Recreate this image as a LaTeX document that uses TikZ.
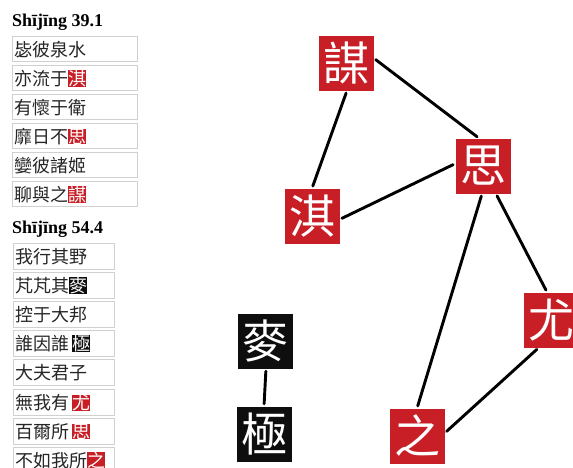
\documentclass[tikz,border=0pt]{standalone}
\usepackage{fontspec}
\usepackage{xcolor}
\usepackage{tikz}
\setmainfont{Liberation Serif}
\newfontfamily\cjk{Noto Sans CJK TC}
\definecolor{mored}{RGB}{200,30,38}
\definecolor{moblack}{RGB}{14,14,14}
\definecolor{frame}{RGB}{208,208,208}
\newcommand{\hlred}[1]{{\setlength\fboxsep{0pt}\colorbox{mored}{\color{white}#1}}}
\newcommand{\hlblack}[1]{{\setlength\fboxsep{0pt}\colorbox{moblack}{\color{white}#1}}}

\begin{document}
\begin{tikzpicture}[x=1pt, y=-1pt,
    title/.style={anchor=base west, inner sep=0pt, font=\fontsize{18pt}{20pt}\selectfont\bfseries},
    verse/.style={draw=frame, line width=1.4pt, anchor=north west, inner xsep=1.5pt, inner ysep=0pt,
      minimum height=25pt, align=left, text=black!85, font=\fontsize{18pt}{20pt}\selectfont\cjk},
    bigred/.style={fill=mored, text=white, minimum size=55pt, inner sep=0pt,
      font=\fontsize{46pt}{46pt}\selectfont\cjk},
    bigblack/.style={bigred, fill=moblack},
    link/.style={line width=2.9pt, line cap=round, shorten <=2.5pt, shorten >=2.5pt}]
    \useasboundingbox[fill=white] (0,0) rectangle (573,467);

    % Shijing 39.1
    \node[title] (t1) at (12,26) {Shījīng 39.1};
    \node[verse, text width=122pt] (a1) at (12,36) {毖彼泉水};
    \node[verse, text width=122pt] (a2) at (12,65) {亦流于\hlred{淇}};
    \node[verse, text width=122pt] (a3) at (12,94) {有懷于衛};
    \node[verse, text width=122pt] (a4) at (12,123) {靡日不\hlred{思}};
    \node[verse, text width=122pt] (a5) at (12,152) {孌彼諸姬};
    \node[verse, text width=122pt] (a6) at (12,181) {聊與之\hlred{謀}};

    % Shijing 54.4
    \node[title] (t2) at (12,233) {Shījīng 54.4};
    \node[verse, text width=98pt, minimum height=26pt] (b1) at (13,243) {我行其野};
    \node[verse, text width=98pt, minimum height=26pt] (b2) at (13,272) {芃芃其\hlblack{麥}};
    \node[verse, text width=98pt, minimum height=26pt] (b3) at (13,301) {控于大邦};
    \node[verse, text width=98pt, minimum height=26pt] (b4) at (13,330) {誰因誰\hspace{3pt}\hlblack{極}};
    \node[verse, text width=98pt, minimum height=26pt] (b5) at (13,359) {大夫君子};
    \node[verse, text width=98pt, minimum height=26pt] (b6) at (13,389) {無我有\hspace{3pt}\hlred{尤}};
    \node[verse, text width=98pt, minimum height=26pt] (b7) at (13,418) {百爾所\hspace{3pt}\hlred{思}};
    \node[verse, text width=98pt, minimum height=26pt] (b8) at (13,447) {不如我所\hlred{之}};

    % rhyme graph
    \node[bigred] (mou) at (346,63) {謀};
    \node[bigred] (si) at (483,166) {思};
    \node[bigred] (qi) at (312,216) {淇};
    \node[bigred] (you) at (551,320) {尤};
    \node[bigred] (zhi) at (417,436) {之};
    \node[bigblack] (mai) at (265,341) {麥};
    \node[bigblack] (ji) at (264,434) {極};

    \draw[link] (mou.10) -- (si.98);
    \draw[link] (mou.-88) -- (qi.north);
    \draw[link] (qi.-7) -- (si.175);
    \draw[link] (si.-92) -- (zhi.north);
    \draw[link] (si.-65) -- (you.98);
    \draw[link] (you.-114) -- (zhi.6);
    \draw[link] (mai.-88) -- (ji.north);
  \end{tikzpicture}
\end{document}
